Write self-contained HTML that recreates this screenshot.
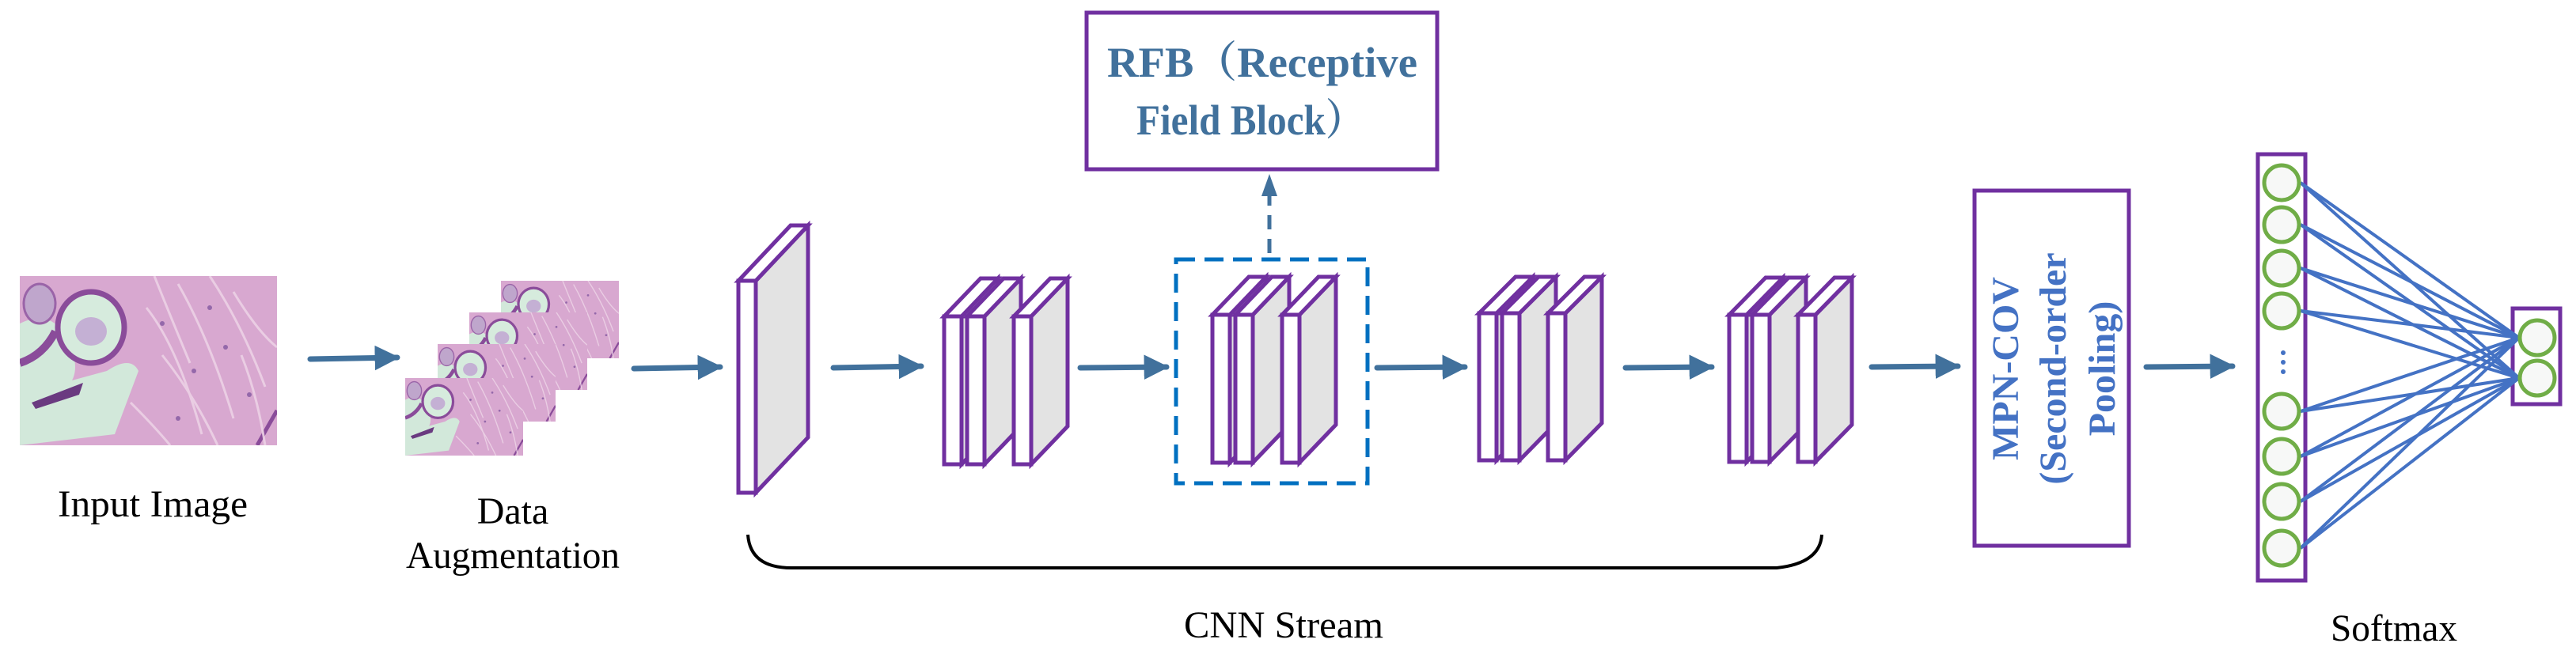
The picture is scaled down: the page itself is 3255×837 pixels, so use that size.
<!DOCTYPE html>
<html><head><meta charset="utf-8"><style>
html,body{margin:0;padding:0;background:#fff;}
svg{display:block;}
</style></head><body>
<svg width="3255" height="837" viewBox="0 0 3255 837" xmlns="http://www.w3.org/2000/svg">
<defs>
<symbol id="histo" viewBox="0 0 325 214" preserveAspectRatio="none">
  <rect width="325" height="214" fill="#d8a8d0"/>
  <path d="M0 60 Q40 40 60 80 Q80 120 60 140 Q20 160 0 150Z" fill="#d2e8da"/>
  <path d="M0 150 L110 120 Q140 100 150 120 L120 200 L0 214Z" fill="#d2e8da"/>
  <ellipse cx="90" cy="65" rx="42" ry="45" fill="#d6ebdd" stroke="#8a4c9a" stroke-width="7"/>
  <ellipse cx="90" cy="70" rx="20" ry="18" fill="#c4b0d4"/>
  <ellipse cx="25" cy="35" rx="20" ry="25" fill="#bfa6cc" stroke="#9a64a8" stroke-width="3"/>
  <path d="M0 110 Q30 100 45 70" stroke="#8a4c9a" stroke-width="10" fill="none"/>
  <path d="M15 160 L80 135 L75 150 L20 168Z" fill="#6a3a80"/>
  <path d="M300 214 L325 170" stroke="#8a4c9a" stroke-width="5"/>
  <g stroke="#ecd2e6" stroke-width="3" fill="none" opacity="0.9">
    <path d="M160 40 Q200 90 230 200"/><path d="M200 10 Q240 80 270 180"/>
    <path d="M240 0 Q280 60 310 140"/><path d="M180 100 Q220 150 250 214"/>
    <path d="M140 160 Q170 190 190 214"/><path d="M270 20 Q300 70 325 90"/>
    <path d="M170 0 Q190 50 215 110"/><path d="M280 100 Q300 150 310 214"/>
  </g>
  <g fill="#9468aa">
    <circle cx="180" cy="60" r="3"/><circle cx="220" cy="120" r="3"/><circle cx="260" cy="90" r="3"/>
    <circle cx="290" cy="150" r="3"/><circle cx="200" cy="180" r="3"/><circle cx="240" cy="40" r="3"/>
  </g>
</symbol>
<marker id="ah" viewBox="0 0 10 10" refX="9" refY="5" markerWidth="4.5" markerHeight="4.5" orient="auto" markerUnits="strokeWidth">
  <path d="M0 0 L10 5 L0 10Z" fill="#41719c"/>
</marker>
</defs>

<use href="#histo" x="25" y="349" width="325" height="214"/>
<text x="193" y="653" font-size="48" text-anchor="middle" font-family="Liberation Serif, serif" textLength="240" lengthAdjust="spacingAndGlyphs">Input Image</text>

<use href="#histo" x="633" y="355" width="149" height="98"/>
<use href="#histo" x="593" y="395" width="149" height="98"/>
<use href="#histo" x="553" y="435" width="149" height="98"/>
<use href="#histo" x="512" y="478" width="149" height="98"/>
<text x="648" y="662" font-size="48" text-anchor="middle" font-family="Liberation Serif, serif">Data</text>
<text x="648" y="718" font-size="48" text-anchor="middle" font-family="Liberation Serif, serif" textLength="270" lengthAdjust="spacingAndGlyphs">Augmentation</text>

<g stroke="#41719c" stroke-width="7" stroke-linecap="round" marker-end="url(#ah)">
  <line x1="392" y1="454" x2="502" y2="452"/>
  <line x1="801" y1="466" x2="910" y2="464"/>
  <line x1="1053" y1="465" x2="1164" y2="463"/>
  <line x1="1365" y1="465" x2="1474" y2="464"/>
  <line x1="1740" y1="465" x2="1851" y2="464"/>
  <line x1="2054" y1="465" x2="2163" y2="464"/>
  <line x1="2365" y1="464" x2="2474" y2="463"/>
  <line x1="2712" y1="464" x2="2821" y2="463"/>
</g>

<g stroke="#7030a0" stroke-width="5">
  <polygon points="955,355 1021,285 1021,553 955,623" fill="#e3e3e3"/>
  <polygon points="933,355 955,355 1021,285 999,285" fill="#fff"/>
  <rect x="933" y="355" width="22" height="268" fill="#fff"/>
</g>
<g stroke="#7030a0" stroke-width="5" fill="#fff">
  <polygon points="1215,400 1261,352 1261,539 1215,587" fill="#e3e3e3"/><polygon points="1193,400 1215,400 1261,352 1239,352"/><rect x="1193" y="400" width="22" height="187"/>
  <polygon points="1244,400 1290,352 1290,539 1244,587" fill="#e3e3e3"/><polygon points="1222,400 1244,400 1290,352 1268,352"/><rect x="1222" y="400" width="22" height="187"/>
  <polygon points="1303,400 1349,352 1349,539 1303,587" fill="#e3e3e3"/><polygon points="1281,400 1303,400 1349,352 1327,352"/><rect x="1281" y="400" width="22" height="187"/>
  <polygon points="1554,398 1600,350 1600,537 1554,585" fill="#e3e3e3"/><polygon points="1532,398 1554,398 1600,350 1578,350"/><rect x="1532" y="398" width="22" height="187"/>
  <polygon points="1583,398 1629,350 1629,537 1583,585" fill="#e3e3e3"/><polygon points="1561,398 1583,398 1629,350 1607,350"/><rect x="1561" y="398" width="22" height="187"/>
  <polygon points="1642,398 1688,350 1688,537 1642,585" fill="#e3e3e3"/><polygon points="1620,398 1642,398 1688,350 1666,350"/><rect x="1620" y="398" width="22" height="187"/>
  <polygon points="1891,396 1937,350 1937,535 1891,582" fill="#e3e3e3"/><polygon points="1869,396 1891,396 1937,350 1915,350"/><rect x="1869" y="396" width="22" height="186"/>
  <polygon points="1920,396 1966,350 1966,535 1920,582" fill="#e3e3e3"/><polygon points="1898,396 1920,396 1966,350 1944,350"/><rect x="1898" y="396" width="22" height="186"/>
  <polygon points="1978,396 2024,350 2024,535 1978,582" fill="#e3e3e3"/><polygon points="1956,396 1978,396 2024,350 2002,350"/><rect x="1956" y="396" width="22" height="186"/>
  <polygon points="2207,398 2253,351 2253,537 2207,584" fill="#e3e3e3"/><polygon points="2185,398 2207,398 2253,351 2231,351"/><rect x="2185" y="398" width="22" height="186"/>
  <polygon points="2236,398 2282,351 2282,537 2236,584" fill="#e3e3e3"/><polygon points="2214,398 2236,398 2282,351 2260,351"/><rect x="2214" y="398" width="22" height="186"/>
  <polygon points="2294,398 2340,351 2340,537 2294,584" fill="#e3e3e3"/><polygon points="2272,398 2294,398 2340,351 2318,351"/><rect x="2272" y="398" width="22" height="186"/>
</g>

<rect x="1486" y="328" width="242" height="283" fill="none" stroke="#0070c0" stroke-width="5" stroke-dasharray="24,12"/>
<line x1="1604" y1="320" x2="1604" y2="245" stroke="#41719c" stroke-width="5" stroke-dasharray="18,12"/>
<polygon points="1604,220 1594,248 1614,248" fill="#41719c"/>

<rect x="1373" y="16" width="443" height="198" fill="#fff" stroke="#7030a0" stroke-width="5"/>
<text x="1595" y="97" font-size="54" font-weight="bold" fill="#41719c" text-anchor="middle" font-family="Liberation Serif, Noto Serif CJK SC, serif" textLength="392" lengthAdjust="spacingAndGlyphs">RFB（Receptive</text>
<text x="1580" y="170" font-size="54" font-weight="bold" fill="#41719c" text-anchor="middle" font-family="Liberation Serif, Noto Serif CJK SC, serif" textLength="288" lengthAdjust="spacingAndGlyphs">Field Block）</text>

<path d="M945 676 Q948 718 1000 718 L2245 718 Q2300 712 2302 676" fill="none" stroke="#000" stroke-width="4"/>
<text x="1622" y="806" font-size="48" text-anchor="middle" font-family="Liberation Serif, serif" textLength="252" lengthAdjust="spacingAndGlyphs">CNN Stream</text>

<rect x="2495" y="241" width="195" height="449" fill="#fff" stroke="#7030a0" stroke-width="5"/>
<g transform="translate(2592,466) rotate(-90)" fill="#4472c4" font-family="Liberation Serif, serif" font-weight="bold" font-size="48" text-anchor="middle">
  <text x="0" y="-42">MPN-COV</text>
  <text x="0" y="18">(Second-order</text>
  <text x="0" y="80">Pooling)</text>
</g>

<rect x="2853" y="195" width="60" height="539" fill="#fff" stroke="#7030a0" stroke-width="5"/>
<rect x="3175" y="390" width="60" height="121" fill="#fff" stroke="#7030a0" stroke-width="5"/>
<g stroke="#4472c4" stroke-width="4">
  <line x1="2907" y1="231" x2="3183" y2="427"/><line x1="2907" y1="231" x2="3183" y2="478"/>
  <line x1="2907" y1="284" x2="3183" y2="427"/><line x1="2907" y1="284" x2="3183" y2="478"/>
  <line x1="2907" y1="339" x2="3183" y2="427"/><line x1="2907" y1="339" x2="3183" y2="478"/>
  <line x1="2907" y1="393" x2="3183" y2="427"/><line x1="2907" y1="393" x2="3183" y2="478"/>
  <line x1="2907" y1="520" x2="3183" y2="427"/><line x1="2907" y1="520" x2="3183" y2="478"/>
  <line x1="2907" y1="577" x2="3183" y2="427"/><line x1="2907" y1="577" x2="3183" y2="478"/>
  <line x1="2907" y1="634" x2="3183" y2="427"/><line x1="2907" y1="634" x2="3183" y2="478"/>
  <line x1="2907" y1="693" x2="3183" y2="427"/><line x1="2907" y1="693" x2="3183" y2="478"/>
</g>
<g fill="#f7f8f7" stroke="#70ad47" stroke-width="5">
  <ellipse cx="2883" cy="231" rx="22" ry="22"/><ellipse cx="2883" cy="284" rx="22" ry="22"/>
  <ellipse cx="2883" cy="339" rx="22" ry="22"/><ellipse cx="2883" cy="393" rx="22" ry="22"/>
  <ellipse cx="2883" cy="520" rx="22" ry="22"/><ellipse cx="2883" cy="577" rx="22" ry="22"/>
  <ellipse cx="2883" cy="634" rx="22" ry="22"/><ellipse cx="2883" cy="693" rx="22" ry="22"/>
  <ellipse cx="3206" cy="427" rx="22" ry="22"/><ellipse cx="3206" cy="478" rx="22" ry="22"/>
</g>
<g fill="#4472c4"><circle cx="2885" cy="446" r="3"/><circle cx="2885" cy="458" r="3"/><circle cx="2885" cy="470" r="3"/></g>
<text x="3025" y="810" font-size="48" text-anchor="middle" font-family="Liberation Serif, serif" textLength="160" lengthAdjust="spacingAndGlyphs">Softmax</text>
</svg>
</body></html>
